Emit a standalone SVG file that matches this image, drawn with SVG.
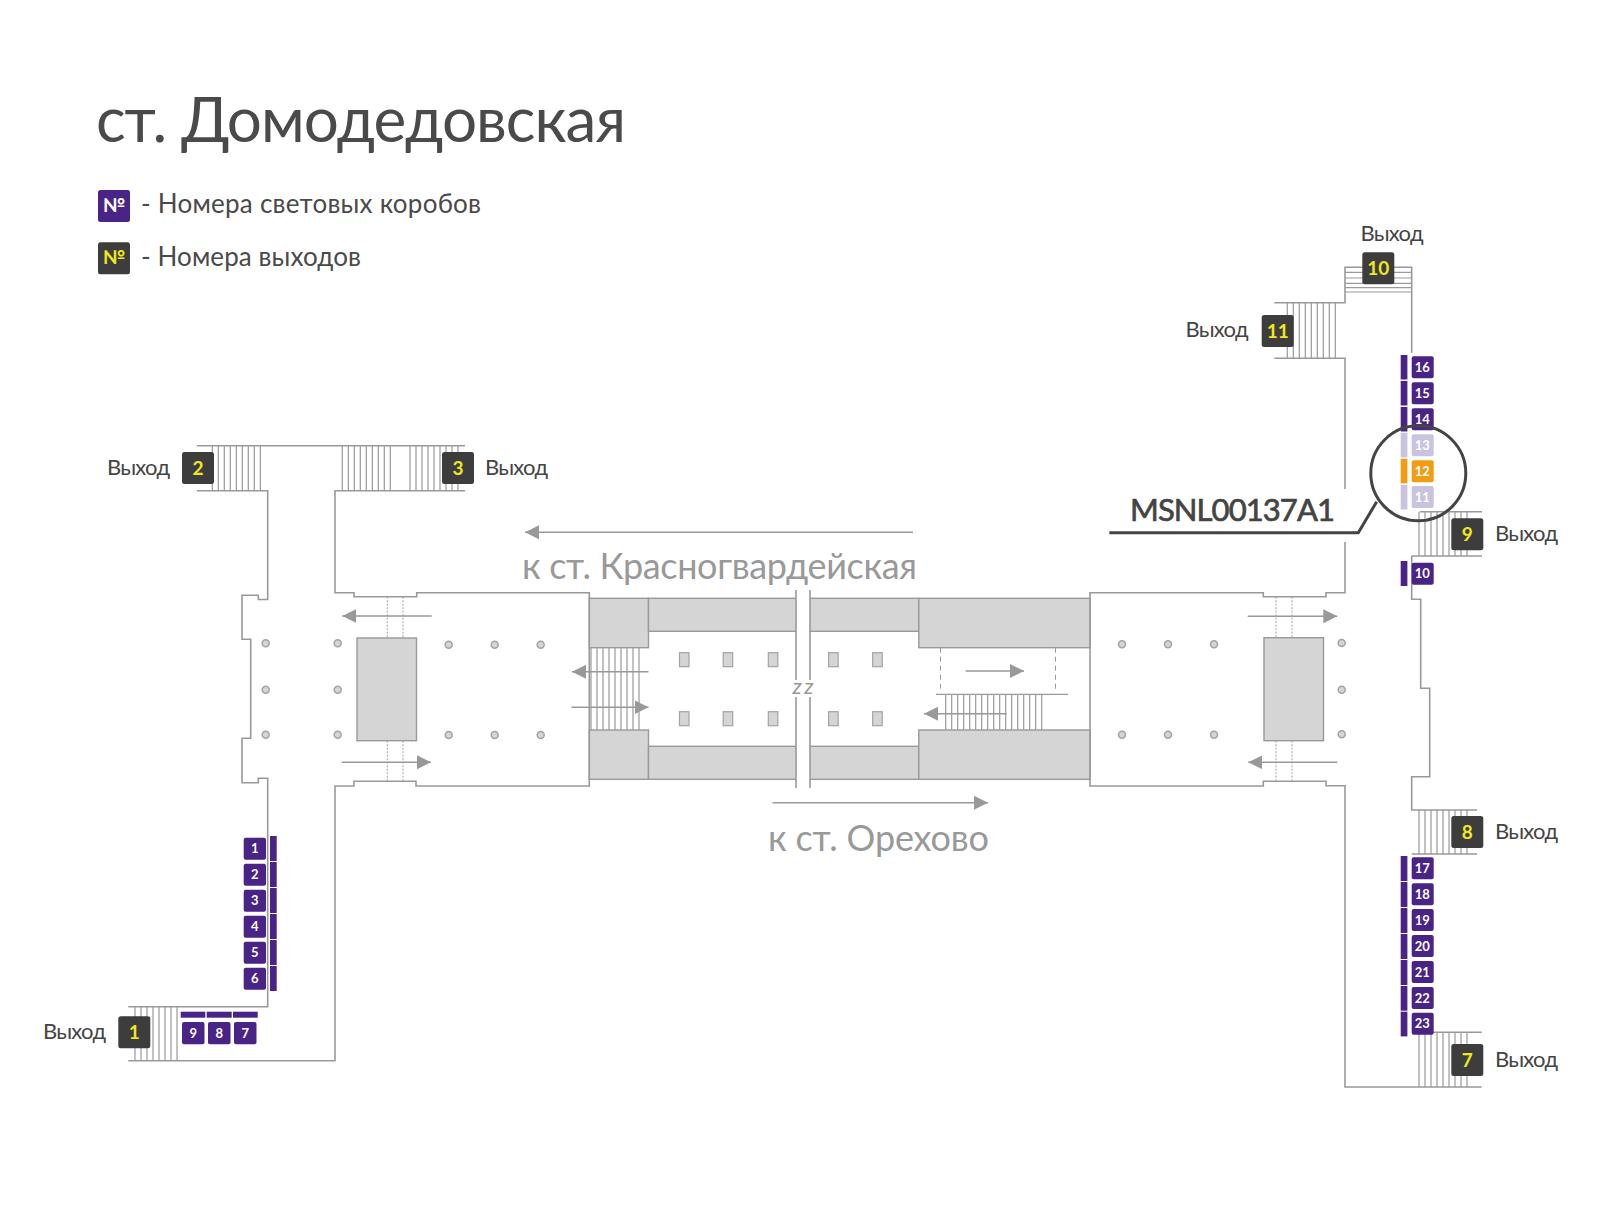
<svg xmlns="http://www.w3.org/2000/svg" width="1600" height="1216" viewBox="0 0 1600 1216">
<style>
text{font-family:"Lato","Noto Sans",sans-serif}
.title{font-size:62px;fill:#4a4a4a}
.leg{font-size:26px;fill:#4a4a4a}
.exit{font-size:22px;fill:#444}
.dest{font-size:36px;fill:#999}
.code{font-size:31px;fill:#444;stroke:#444;stroke-width:.7}
.wall{fill:none;stroke:#999;stroke-width:1.6}
.stair{fill:none;stroke:#9a9a9a;stroke-width:1.2}
.dot{fill:none;stroke:#a3a3a3;stroke-width:1;stroke-dasharray:2 1.5}
.dash{fill:none;stroke:#999;stroke-width:1;stroke-dasharray:5 4}
.block{fill:#d5d5d5;stroke:#999;stroke-width:1.4}
.col{fill:#d5d5d5;stroke:#a3a3a3;stroke-width:1.5}
.arr{fill:none;stroke:#999;stroke-width:1.6;marker-end:url(#ah)}
.badge{fill:#3d3d3d}
.bn{font-size:19px;font-weight:700;fill:#f2e71c;text-anchor:middle}
.pb{fill:#4a2386}
.ob{fill:#f29c13}
.lb{fill:#c9c3df}
.pn{font-size:13px;font-weight:700;fill:#fff;text-anchor:middle}
</style>
<defs>
<marker id="ah" markerUnits="userSpaceOnUse" markerWidth="15" markerHeight="15" refX="14" refY="7" orient="auto"><path d="M0 0L14 7L0 14Z" fill="#999"/></marker>
</defs>
<text class="title" x="96" y="141.7" textLength="530">ст. Домодедовская</text>
<g id="legend">
<rect class="pb" x="98" y="190" width="32" height="32" rx="2.5"/><text x="114" y="212" font-size="19" font-weight="700" fill="#fff" text-anchor="middle">№</text>
<text class="leg" x="141" y="213" textLength="340">- Номера световых коробов</text>
<rect class="badge" x="98" y="242.3" width="32" height="32" rx="2.5"/><text x="114" y="264.3" font-size="19" font-weight="700" fill="#f2e71c" text-anchor="middle">№</text>
<text class="leg" x="141" y="266" textLength="220">- Номера выходов</text>
</g>
<g id="plan">
<rect class="block" x="357" y="638" width="59.5" height="102.7"/>
<rect class="block" x="1264" y="637.7" width="59.5" height="103"/>
<rect class="block" x="589.3" y="598.3" width="59.2" height="49.4"/>
<rect class="block" x="648.5" y="598.3" width="270.3" height="33"/>
<rect class="block" x="918.8" y="598.3" width="171.2" height="49.4"/>
<rect class="block" x="589.3" y="730" width="59.2" height="49.3"/>
<rect class="block" x="648.5" y="746.3" width="270.3" height="33"/>
<rect class="block" x="918.8" y="730" width="171.2" height="49.3"/>
<rect x="796" y="590" width="14" height="198" fill="#fff"/>
<path class="wall" d="M796 590V680M796 697V788M810 590V680M810 697V788"/>
<text x="792.5" y="694" font-size="22" font-style="italic" fill="#999" textLength="21">zz</text>
<g fill="#d5d5d5" stroke="#a3a3a3" stroke-width="1.2">
<rect x="679.5" y="652.7" width="9.5" height="14"/><rect x="723.2" y="652.7" width="9.5" height="14"/><rect x="768.3" y="652.7" width="9.5" height="14"/><rect x="828.6" y="652.7" width="9.5" height="14"/><rect x="872.7" y="652.7" width="9.5" height="14"/>
<rect x="679.5" y="711.7" width="9.5" height="14"/><rect x="723.2" y="711.7" width="9.5" height="14"/><rect x="768.3" y="711.7" width="9.5" height="14"/><rect x="828.6" y="711.7" width="9.5" height="14"/><rect x="872.7" y="711.7" width="9.5" height="14"/>
</g>
<g class="col">
<circle cx="265.7" cy="643.3" r="3.5"/><circle cx="265.7" cy="689.7" r="3.5"/><circle cx="265.7" cy="734.7" r="3.5"/>
<circle cx="337.7" cy="643.3" r="3.5"/><circle cx="337.7" cy="689.7" r="3.5"/><circle cx="337.7" cy="734.7" r="3.5"/>
<circle cx="448.7" cy="644.7" r="3.5"/><circle cx="494.7" cy="644.7" r="3.5"/><circle cx="540.7" cy="644.7" r="3.5"/>
<circle cx="448.7" cy="735" r="3.5"/><circle cx="494.7" cy="735" r="3.5"/><circle cx="540.7" cy="735" r="3.5"/>
<circle cx="1122" cy="644.3" r="3.5"/><circle cx="1168" cy="644.3" r="3.5"/><circle cx="1214" cy="644.3" r="3.5"/>
<circle cx="1122" cy="734.7" r="3.5"/><circle cx="1168" cy="734.7" r="3.5"/><circle cx="1214" cy="734.7" r="3.5"/>
<circle cx="1341.7" cy="643" r="3.5"/><circle cx="1341.7" cy="689.7" r="3.5"/><circle cx="1341.7" cy="734.3" r="3.5"/>
</g>
<path class="dot" d="M387.3 596.7V638M403 596.7V638M387.3 740.7V781.3M403 740.7V781.3M1276 596.7V637.7M1292 596.7V637.7M1276 740.7V781.3M1292 740.7V781.3"/>
<path class="dash" d="M940.5 647.7V690.7M1055.5 647.7V690.7"/>
<path class="stair" d="M591 647.7V730m6-82.3V730m6-82.3V730m6-82.3V730m6-82.3V730m6-82.3V730m6-82.3V730m6-82.3V730m6-82.3V730"/>
<path class="stair" d="M945.7 694.3V730m6-35.7V730m6-35.7V730m6-35.7V730m6-35.7V730m6-35.7V730m6-35.7V730m6-35.7V730m6-35.7V730m6-35.7V730m6-35.7V730m6-35.7V730m6-35.7V730m6-35.7V730m6-35.7V730m6-35.7V730m6-35.7V730"/>
<path class="stair" d="M936 694.3H1068"/>
<path class="stair" d="M212.3 445.7V490.7m6-45v45m6-45v45m6-45v45m6-45v45m6-45v45m6-45v45m6-45v45m6-45v45"/>
<path class="stair" d="M342.3 445.7V490.7m6-45v45m6-45v45m6-45v45m6-45v45m6-45v45m6-45v45m6-45v45m6-45v45"/>
<path class="stair" d="M410 445.7V490.7m6-45v45m6-45v45m6-45v45m6-45v45m6-45v45m6-45v45m6-45v45m6-45v45"/>
<path class="stair" d="M135 1006.7V1060.7m6-54v54m6-54v54m6-54v54m6-54v54m6-54v54m6-54v54m6-54v54"/>
<path class="stair" d="M1287.3 302.7V358.3m6-55.6v55.6m6-55.6v55.6m6-55.6v55.6m6-55.6v55.6m6-55.6v55.6m6-55.6v55.6m6-55.6v55.6m6-55.6v55.6"/>
<path class="stair" d="M1345 272.3H1411.7M1345 278H1411.7M1345 283.3H1411.7M1345 287.7H1411.7M1345 292H1411.7"/>
<path class="stair" d="M1419 511.7V556m6-44.3V556m6-44.3V556m6-44.3V556m6-44.3V556m6-44.3V556m6-44.3V556m6-44.3V556m6-44.3V556"/>
<path class="stair" d="M1419 810V854m6-44V854m6-44V854m6-44V854m6-44V854m6-44V854m6-44V854m6-44V854m6-44V854"/>
<path class="stair" d="M1419 1032.3V1087m6-54.7V1087m6-54.7V1087m6-54.7V1087m6-54.7V1087m6-54.7V1087m6-54.7V1087m6-54.7V1087m6-54.7V1087"/>
<path class="wall" d="M197 445.7H465M197 490.7H267.7V599.5H258.3V595.3H242V639.3H250.7V738.3H242V782.7H258.3V778.3H267.7V1006.7H128.3"/>
<path class="wall" d="M128.3 1060.7H335V786H354V781.3H416V786H589.3V592.7H416.7V596.7H354V592.7H335V490.7H465"/>
<path class="wall" d="M1345 542V592.7H1326V596.7H1263.3V592.7H1090V786H1263.3V781.3H1326V785.7H1345V1087H1481.7"/>
<path class="wall" d="M1345 489V358.3H1274.3M1274.3 302.7H1345V267.3H1411.7V353M1411.7 556V599.3H1420.7V688.3H1429.7V776.7H1411.7V810H1477M1411.7 854H1477M1420 511.7H1482M1411.7 556H1482M1430 1032.3H1481.7"/>
</g>
<g id="connectors">
<path class="arr" d="M913 532.3H525"/>
<path class="arr" d="M772.5 802.7H988"/>
<path class="arr" d="M431.7 616H342.3"/>
<path class="arr" d="M341.7 762.3H431"/>
<path class="arr" d="M648.5 671.7H572"/>
<path class="arr" d="M571.4 707.3H648.5"/>
<path class="arr" d="M965.6 671H1024"/>
<path class="arr" d="M1006.6 713.7H924"/>
<path class="arr" d="M1247.7 616.3H1337.3"/>
<path class="arr" d="M1337.3 762.3H1248.3"/>
</g>
<text class="dest" x="522" y="579" textLength="395">к ст. Красногвардейская</text>
<text class="dest" x="768" y="851" textLength="221">к ст. Орехово</text>
<g id="exit-1"><rect class="badge" x="118.3" y="1016.3" width="32" height="32" rx="2.5"/><text class="bn" x="134.3" y="1039">1</text><text class="exit" x="43" y="1039" textLength="63">Выход</text></g>
<g id="exit-2"><rect class="badge" x="182" y="452" width="32" height="32" rx="2.5"/><text class="bn" x="198" y="475">2</text><text class="exit" x="107" y="475" textLength="63">Выход</text></g>
<g id="exit-3"><rect class="badge" x="442" y="452" width="32" height="32" rx="2.5"/><text class="bn" x="458" y="475">3</text><text class="exit" x="485" y="475" textLength="63">Выход</text></g>
<g id="exit-7"><rect class="badge" x="1451.3" y="1044" width="32" height="32" rx="2.5"/><text class="bn" x="1467.3" y="1066.7">7</text><text class="exit" x="1495" y="1066.7" textLength="63">Выход</text></g>
<g id="exit-8"><rect class="badge" x="1451.3" y="816" width="32" height="32" rx="2.5"/><text class="bn" x="1467.3" y="838.7">8</text><text class="exit" x="1495" y="839" textLength="63">Выход</text></g>
<g id="exit-9"><rect class="badge" x="1451.3" y="518.3" width="32" height="32" rx="2.5"/><text class="bn" x="1467.3" y="540.7">9</text><text class="exit" x="1495" y="540.7" textLength="63">Выход</text></g>
<g id="exit-10"><rect class="badge" x="1362.3" y="252.3" width="32" height="32" rx="2.5"/><text class="bn" x="1378.3" y="275" font-size="18">10</text><text class="exit" x="1360.5" y="240.7" textLength="63">Выход</text></g>
<g id="exit-11"><rect class="badge" x="1261.7" y="315" width="32" height="32" rx="2.5"/><text class="bn" x="1277.7" y="337.7" font-size="18">11</text><text class="exit" x="1185.5" y="337.3" textLength="63">Выход</text></g>
<g id="boxes-left">
<g id="box-1"><rect class="pb" x="270" y="836" width="6.7" height="25"/><rect class="pb" x="243.7" y="837.7" width="22.3" height="22" rx="2"/><text class="pn" x="254.8" y="853.3">1</text></g>
<g id="box-2"><rect class="pb" x="270" y="862" width="6.7" height="25"/><rect class="pb" x="243.7" y="863.7" width="22.3" height="22" rx="2"/><text class="pn" x="254.8" y="879.3">2</text></g>
<g id="box-3"><rect class="pb" x="270" y="888" width="6.7" height="25"/><rect class="pb" x="243.7" y="889.7" width="22.3" height="22" rx="2"/><text class="pn" x="254.8" y="905.3">3</text></g>
<g id="box-4"><rect class="pb" x="270" y="914" width="6.7" height="25"/><rect class="pb" x="243.7" y="915.7" width="22.3" height="22" rx="2"/><text class="pn" x="254.8" y="931.3">4</text></g>
<g id="box-5"><rect class="pb" x="270" y="940" width="6.7" height="25"/><rect class="pb" x="243.7" y="941.7" width="22.3" height="22" rx="2"/><text class="pn" x="254.8" y="957.3">5</text></g>
<g id="box-6"><rect class="pb" x="270" y="966" width="6.7" height="25"/><rect class="pb" x="243.7" y="967.7" width="22.3" height="22" rx="2"/><text class="pn" x="254.8" y="983.3">6</text></g>
<g id="box-9"><rect class="pb" x="180.7" y="1011.7" width="24.6" height="6"/><rect class="pb" x="182" y="1022" width="22.5" height="22.3" rx="2"/><text class="pn" x="193.2" y="1037.8">9</text></g>
<g id="box-8"><rect class="pb" x="206.7" y="1011.7" width="25" height="6"/><rect class="pb" x="208" y="1022" width="22.5" height="22.3" rx="2"/><text class="pn" x="219.2" y="1037.8">8</text></g>
<g id="box-7"><rect class="pb" x="233" y="1011.7" width="24.7" height="6"/><rect class="pb" x="234" y="1022" width="22.5" height="22.3" rx="2"/><text class="pn" x="245.2" y="1037.8">7</text></g>
</g>
<g id="boxes-right">
<g id="box-16"><rect class="pb" x="1400.7" y="355" width="6.7" height="24.5"/><rect class="pb" x="1411.7" y="356.3" width="22" height="22" rx="2"/><text class="pn" x="1422.2" y="372">16</text></g>
<g id="box-15"><rect class="pb" x="1400.7" y="381" width="6.7" height="24.5"/><rect class="pb" x="1411.7" y="382.3" width="22" height="22" rx="2"/><text class="pn" x="1422.2" y="398">15</text></g>
<g id="box-14"><rect class="pb" x="1400.7" y="407" width="6.7" height="24.5"/><rect class="pb" x="1411.7" y="408.3" width="22" height="22" rx="2"/><text class="pn" x="1422.2" y="424">14</text></g>
<g id="box-13"><rect class="lb" x="1400.7" y="432.7" width="6.7" height="24.7"/><rect class="lb" x="1411.7" y="434.3" width="22" height="22" rx="2"/><text class="pn" x="1422.2" y="450">13</text></g>
<g id="box-12"><rect class="ob" x="1400.7" y="458.7" width="6.7" height="24.7"/><rect class="ob" x="1411.7" y="460.3" width="22" height="22" rx="2"/><text class="pn" x="1422.2" y="476">12</text></g>
<g id="box-11"><rect class="lb" x="1400.7" y="485" width="6.7" height="24.5"/><rect class="lb" x="1411.7" y="486" width="22" height="22" rx="2"/><text class="pn" x="1422.2" y="501.7">11</text></g>
<g id="box-10"><rect class="pb" x="1400.7" y="561" width="6.7" height="25"/><rect class="pb" x="1411.7" y="562.7" width="22" height="22" rx="2"/><text class="pn" x="1422.2" y="578.4">10</text></g>
<g id="box-17"><rect class="pb" x="1400.7" y="856" width="6.7" height="25"/><rect class="pb" x="1411.7" y="857.3" width="22" height="22" rx="2"/><text class="pn" x="1422.2" y="873">17</text></g>
<g id="box-18"><rect class="pb" x="1400.7" y="882" width="6.7" height="25"/><rect class="pb" x="1411.7" y="883.3" width="22" height="22" rx="2"/><text class="pn" x="1422.2" y="899">18</text></g>
<g id="box-19"><rect class="pb" x="1400.7" y="908" width="6.7" height="25"/><rect class="pb" x="1411.7" y="909" width="22" height="22" rx="2"/><text class="pn" x="1422.2" y="924.7">19</text></g>
<g id="box-20"><rect class="pb" x="1400.7" y="934" width="6.7" height="25"/><rect class="pb" x="1411.7" y="935" width="22" height="22" rx="2"/><text class="pn" x="1422.2" y="950.7">20</text></g>
<g id="box-21"><rect class="pb" x="1400.7" y="960" width="6.7" height="25"/><rect class="pb" x="1411.7" y="961" width="22" height="22" rx="2"/><text class="pn" x="1422.2" y="976.7">21</text></g>
<g id="box-22"><rect class="pb" x="1400.7" y="986" width="6.7" height="24.7"/><rect class="pb" x="1411.7" y="987" width="22" height="22" rx="2"/><text class="pn" x="1422.2" y="1002.7">22</text></g>
<g id="box-23"><rect class="pb" x="1400.7" y="1011.7" width="6.7" height="24.7"/><rect class="pb" x="1411.7" y="1012.7" width="22" height="22" rx="2"/><text class="pn" x="1422.2" y="1028.4">23</text></g>
</g>
<g id="callout">
<circle cx="1418.3" cy="473.3" r="47.5" fill="none" stroke="#444" stroke-width="3"/>
<path d="M1109.3 532.7H1358.3L1376.7 501.7" fill="none" stroke="#444" stroke-width="3"/>
<text class="code" x="1130" y="520.7" textLength="205">MSNL00137A1</text>
</g>
</svg>
